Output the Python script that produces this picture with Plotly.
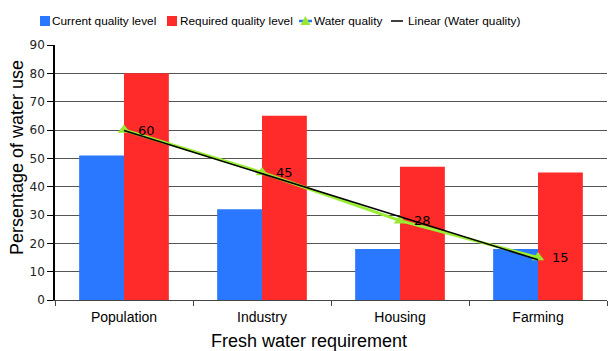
import numpy as np
import plotly.graph_objects as go

categories = ["Population", "Industry", "Housing", "Farming"]
current_quality = [51, 32, 18, 18]
required_quality = [80, 65, 47, 45]
water_quality = [60, 45, 28, 15]

BLUE = "#2a78ff"
RED = "#ff2a2a"
GREEN = "#99ee33"

# least-squares linear trend of the water quality series
xi = np.arange(1, len(water_quality) + 1)
slope, intercept = np.polyfit(xi, water_quality, 1)
trend = slope * xi + intercept

fig = go.Figure()
fig.add_trace(go.Bar(
    x=categories, y=current_quality, name="Current quality level",
    marker=dict(color=BLUE, line=dict(width=0)),
))
fig.add_trace(go.Bar(
    x=categories, y=required_quality, name="Required quality level",
    marker=dict(color=RED, line=dict(width=0)),
))
fig.add_trace(go.Scatter(
    x=categories, y=water_quality, name="Water quality",
    mode="lines+markers",
    line=dict(color=GREEN, width=3),
    marker=dict(symbol="triangle-up", size=11, color="#99e633"),
))
fig.add_trace(go.Scatter(
    x=categories, y=trend, name="Linear (Water quality)",
    mode="lines", line=dict(color="black", width=1.6),
))

# value labels beside the water quality points
for cat, v in zip(categories, water_quality):
    fig.add_annotation(
        x=cat, y=v, text=str(v), showarrow=False,
        xanchor="left", yanchor="middle", xshift=12,
        font=dict(family="DejaVu Sans", size=13, color="black"),
    )

# pixel helpers for items placed around the plot area
W, H = 608, 351
L, R, T, B = 55, 1, 45, 51
pw, ph = W - L - R, H - T - B


def px(x):
    return (x - L) / pw


def py(y):
    return (H - B - y) / ph


# legend row above the plot
leg_y = 21
leg_font = dict(family="Liberation Sans, Arial", size=11.8, color="black")
for x0, color in [(40, BLUE), (167, RED)]:
    fig.add_shape(type="rect", xref="paper", yref="paper",
                  x0=px(x0), x1=px(x0 + 10), y0=py(leg_y + 5), y1=py(leg_y - 5),
                  fillcolor=color, line=dict(width=0))
fig.add_shape(type="line", xref="paper", yref="paper",
              x0=px(299), x1=px(312), y0=py(leg_y), y1=py(leg_y),
              line=dict(color=BLUE, width=2.5))
fig.add_shape(type="path", xref="paper", yref="paper",
              path=f"M {px(300.5)} {py(leg_y + 4)} L {px(310.5)} {py(leg_y + 4)} "
                   f"L {px(305.5)} {py(leg_y - 5)} Z",
              fillcolor="#99e633", line=dict(width=0))
fig.add_shape(type="line", xref="paper", yref="paper",
              x0=px(391), x1=px(403), y0=py(leg_y), y1=py(leg_y),
              line=dict(color="black", width=1.5))
for x0, label in [(50, "Current quality level"), (178, "Required quality level"),
                  (312, "Water quality"), (406, "Linear (Water quality)")]:
    fig.add_annotation(xref="paper", yref="paper", x=px(x0), y=py(leg_y),
                       text=label, showarrow=False, xanchor="left",
                       yanchor="middle", font=leg_font)

# axis titles
title_font = dict(family="Liberation Sans, Arial", size=18, color="black")
fig.add_annotation(xref="paper", yref="paper", x=px(309), y=py(341),
                   text="Fresh water requirement", showarrow=False,
                   xanchor="center", yanchor="middle", font=title_font)
fig.add_annotation(xref="paper", yref="paper", x=px(17), y=py(158),
                   text="Persentage of water use", showarrow=False,
                   textangle=-90, xanchor="center", yanchor="middle",
                   font=title_font)

fig.update_layout(
    width=W, height=H,
    margin=dict(l=L, r=R, t=T, b=B),
    paper_bgcolor="white", plot_bgcolor="white",
    barmode="group", bargap=0.35, bargroupgap=0,
    font=dict(family="Liberation Sans, Arial", size=13, color="black"),
    showlegend=False,
)
fig.update_xaxes(
    tickson="boundaries", ticks="outside", ticklen=5, tickcolor="#444",
    showline=True, linecolor="#444", linewidth=1,
    tickfont=dict(family="Liberation Sans, Arial", size=14),
    ticklabelstandoff=4,
    showgrid=False,
)
fig.update_yaxes(
    range=[0, 90], dtick=10, ticks="outside", ticklen=6, tickcolor="black",
    showline=True, linecolor="black", linewidth=1.5,
    showgrid=True, gridcolor="#555", gridwidth=1.2,
    tickfont=dict(family="DejaVu Sans", size=12, color="#222"),
    zeroline=False,
)

fig.write_html("out.html")
